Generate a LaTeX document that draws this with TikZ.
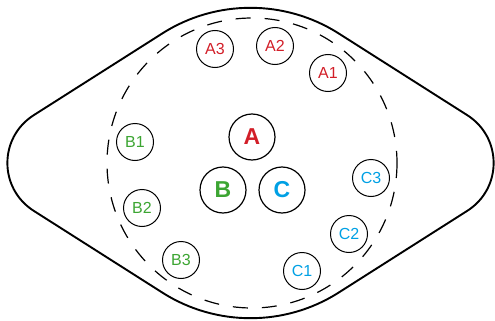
\documentclass[tikz,border=0pt]{standalone}
\usepackage{fontspec}
\setmainfont{Liberation Sans}
\usepackage{tikz}

\definecolor{grpred}{RGB}{210,30,40}
\definecolor{grpgreen}{RGB}{60,165,50}
\definecolor{grpblue}{RGB}{0,160,228}

\begin{document}
\begin{tikzpicture}[x=1pt,y=-1pt,
	member/.style={draw,circle,black,line width=1pt,minimum size=37pt,inner sep=0pt,font=\fontsize{16}{16}\selectfont},
	leader/.style={draw,circle,black,line width=1.2pt,minimum size=46pt,inner sep=0pt,font=\fontsize{23}{23}\selectfont\bfseries}]

	\useasboundingbox (0,0) rectangle (495,321);

	\draw [line width=1.9pt] (163,33) .. controls (216.3,-0.6) and (284.7,-0.6) .. (338,33)
		-- (467,115) .. controls (502.5,137.4) and (502.5,188.6) .. (467,211)
		-- (338,293) .. controls (284.7,326.6) and (216.3,326.6) .. (163,293)
		-- (34,211) .. controls (-1.5,188.6) and (-1.5,137.4) .. (34,115)
		-- cycle;

	\draw [line width=1.2pt, dash pattern=on 15pt off 14pt] (252,163) circle [radius=145];


	\node [name=ldrA,leader,text=grpred] at (252,137) {A};
	\node [name=ldrB,leader,text=grpgreen] at (223,190) {B};
	\node [name=ldrC,leader,text=grpblue] at (282,190) {C};


	\node [name=a1,member,text=grpred] at (328,73) {A1};
	\node [name=a2,member,text=grpred] at (275,46) {A2};
	\node [name=a3,member,text=grpred] at (215,49) {A3};

	\node [name=b1,member,text=grpgreen] at (135,142) {B1};
	\node [name=b2,member,text=grpgreen] at (142,208) {B2};
	\node [name=b3,member,text=grpgreen] at (181,260) {B3};

	\node [name=c1,member,text=grpblue] at (302,271) {C1};
	\node [name=c2,member,text=grpblue] at (349,234) {C2};
	\node [name=c3,member,text=grpblue] at (371,178) {C3};

\end{tikzpicture}
\end{document}
